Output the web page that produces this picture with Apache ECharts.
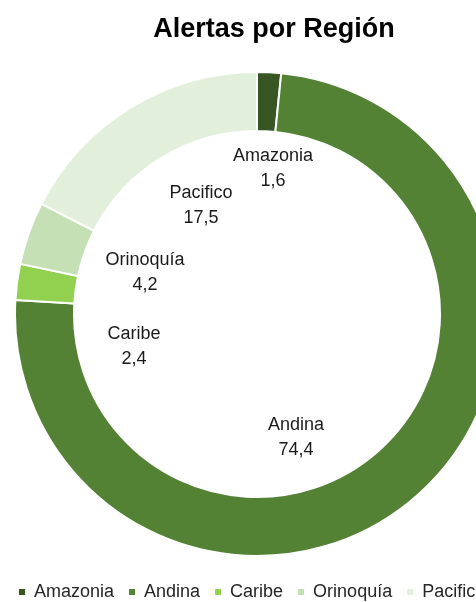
<!DOCTYPE html>
<html>
<head>
<meta charset="utf-8">
<style>
  html, body { margin: 0; padding: 0; background: #ffffff; }
  #chart { width: 476px; height: 602px; }
</style>
<script src="https://cdn.jsdelivr.net/npm/echarts@6/dist/echarts.min.js"></script>
</head>
<body>
<div id="chart"></div>
<script>
// Alert share by region (percent)
const regions = ['Amazonia', 'Andina', 'Caribe', 'Orinoquía', 'Pacifico'];
const shares = [1.6, 74.4, 2.4, 4.2, 17.5];
const sliceColors = ['#375623', '#548235', '#92D050', '#C5E0B4', '#E2EFDA'];

// Where each data label sits inside the hole (centre of the two-line block)
const labelSpots = [
  [273, 169],
  [296, 438],
  [134, 347],
  [145, 273],
  [201, 206]
];

const FONT = "'Liberation Sans', Arial, sans-serif";

const chart = echarts.init(document.getElementById('chart'), null, { renderer: 'canvas' });

chart.setOption({
  animation: false,
  backgroundColor: '#ffffff',
  color: sliceColors,
  title: {
    text: 'Alertas por Región',
    left: 269,
    top: 11,
    textAlign: 'center',
    textStyle: {
      fontFamily: FONT,
      fontSize: 27,
      fontWeight: 'bold',
      color: '#000000'
    }
  },
  legend: {
    data: regions,
    left: 12,
    top: 578,
    width: 900,
    icon: 'rect',
    itemWidth: 8,
    itemHeight: 8,
    itemGap: 13,
    textStyle: {
      fontFamily: FONT,
      fontSize: 18,
      color: '#262626',
      padding: [0, 0, 0, 3]
    }
  },
  series: [{
    type: 'pie',
    center: [257, 314],
    radius: [183, 242],
    startAngle: 90,
    clockwise: true,
    avoidLabelOverlap: false,
    itemStyle: {
      borderColor: '#ffffff',
      borderWidth: 2
    },
    label: {
      show: true,
      position: 'inside',
      fontFamily: FONT,
      fontSize: 18,
      lineHeight: 25,
      color: '#1a1a1a',
      align: 'center',
      verticalAlign: 'middle',
      formatter: p => p.name + '\n' + p.value.toFixed(1).replace('.', ',')
    },
    labelLine: { show: false },
    labelLayout: p => ({
      x: labelSpots[p.dataIndex][0],
      y: labelSpots[p.dataIndex][1],
      align: 'center',
      verticalAlign: 'middle'
    }),
    emphasis: { disabled: true },
    data: regions.map((name, i) => ({ name: name, value: shares[i] }))
  }]
});
</script>
</body>
</html>
